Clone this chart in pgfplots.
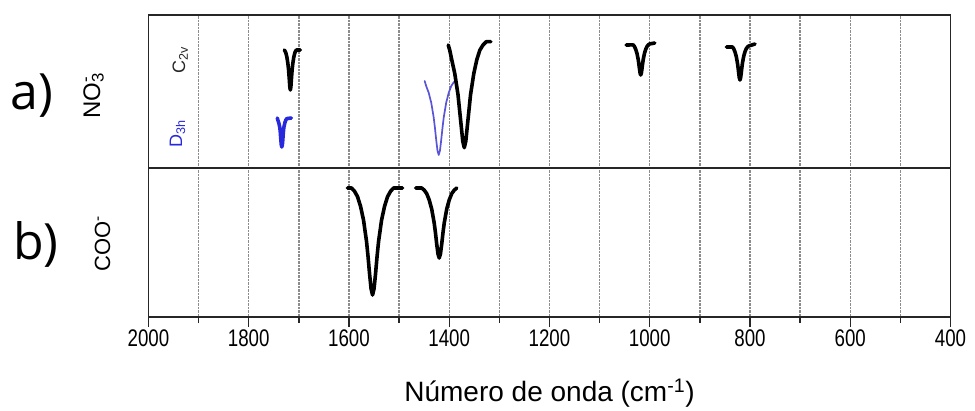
\documentclass[border=0pt]{standalone}
\usepackage{fontspec}
\setmainfont{Liberation Sans}
\newfontfamily\tickfont[FakeStretch=0.78]{Liberation Sans}
\newfontfamily\labfont{Open Sans}
\usepackage{pgfplots}
\pgfplotsset{compat=1.18}
\definecolor{dblue}{RGB}{40,40,220}
\definecolor{lblue}{RGB}{90,85,215}
\definecolor{gridgray}{RGB}{140,140,140}

\pgfplotsset{
  peak/.style={line width=3.6pt, line join=round, line cap=round, black, no marks},
  toppanel/.style={y filter/.code={\pgfmathparse{\pgfmathresult+149}}},
}

\begin{document}
\begin{tikzpicture}
\path[use as bounding box] (0pt,0pt) rectangle (975pt,410pt);

\begin{axis}[at={(148.5pt,93pt)}, anchor=south west,
  scale only axis, width=802pt, height=302pt,
  xmin=400, xmax=2000, x dir=reverse,
  ymin=0, ymax=302,
  axis line style={line width=1.6pt, black!85},
  every tick/.style={black!85, line width=1.3pt},
  /pgf/number format/assume math mode=true,
  /pgf/number format/1000 sep={},
  clip=false,
  xtick={400,600,...,2000}, minor xtick={500,700,...,1900},
  xmajorgrids, xminorgrids,
  every axis x grid/.style={densely dotted, gridgray, line width=1.3pt},
  xtick pos=left, tick align=outside,
  major tick length=10pt, minor tick length=6pt,
  xticklabel style={font=\tickfont\fontsize{24}{24}\selectfont, yshift=1pt},
  ytick={149}, ymajorgrids,
  every axis y grid/.style={solid, black!85, line width=1.6pt},
  ytick style={draw=none},
  yticklabel style={text opacity=0},
  extra y ticks={74.5,225.5}, extra y tick labels={},
  extra y tick style={grid=none, major tick length=4pt, tick align=inside, ytick pos=both},
]
% COO- panel
\addplot[peak] coordinates {
(1603,129)(1595,129)(1589,125.8)(1583,120.4)(1577,110.8)(1571,96.9)(1565,75.5)(1562,60.5)(1559,43.4)(1556,28.4)(1553,22)(1550,28.4)(1547,43.4)(1544,60.5)(1541,75.5)(1535,96.9)(1529,110.8)(1523,120.4)(1517,125.8)(1511,129)(1493,129)};
\addplot[peak] coordinates {
(1467,129)(1455,129)(1450,126.9)(1445,123.4)(1440,117.1)(1435,108)(1430,94)(1427.5,84.2)(1425,73)(1422.5,63.2)(1420,59)(1417.5,63.2)(1415,73)(1412.5,84.2)(1410,94)(1405,108)(1400,117.1)(1395,123.4)(1390,126.9)(1385,129)};
% NO3- panel: D3h small
\addplot[peak, dblue, toppanel] coordinates {
(1743,50)(1742,48)(1740,45.1)(1738,40.4)(1737,35.5)(1736,28.3)(1735,23)(1734,21)(1733,23)(1732,28.3)(1731,35.5)(1730,40.4)(1728,45.1)(1726,48)(1724,49.4)(1715,50)};
% D3h large
\addplot[peak, lblue, line width=1.7pt, toppanel] coordinates {
(1449,87)(1446,82)(1441,75.25)(1436,65.5)(1431,50.5)(1428.5,40)(1426,28)(1423.5,17.5)(1421,13)(1418.5,17.5)(1416,28)(1413.5,40)(1411,50.5)(1406,65.5)(1401,75.25)(1396,82)(1391,85.75)(1386,88)};
% C2v peaks
\addplot[peak, toppanel] coordinates {
(1729,118)(1728,117.2)(1726,115.2)(1724,111.2)(1722,104.8)(1720.5,98)(1719,88)(1718,80.8)(1717,78)(1716,80.8)(1715,88)(1713.5,98)(1712,104.8)(1710,111.2)(1708,115.2)(1706,117.2)(1705,118)(1697,118)};
\addplot[peak, toppanel] coordinates {
(1402,123)(1399,117.8)(1395,108.3)(1389,94.5)(1382.5,73.3)(1379.5,58.5)(1376,41.5)(1373,26.7)(1370,20.3)(1367,26.7)(1364,41.5)(1360.5,58.5)(1357.5,73.3)(1351,94.5)(1345,108.3)(1339,117.8)(1332.5,123.1)(1326,126.3)(1317,126.3)};
\addplot[peak, toppanel] coordinates {
(1047,123)(1033,123.1)(1030.5,121.5)(1028,118.7)(1025.5,114.7)(1023,108.5)(1021.75,104.2)(1020.5,99.2)(1019.25,94.9)(1018,93)(1016.75,94.9)(1015.5,99.2)(1014.25,104.2)(1013,108.5)(1010.5,114.7)(1008,118.7)(1005.5,121.5)(1003,123.1)(1000.5,124)(990,125)};
\addplot[peak, toppanel] coordinates {
(847,121)(835,121)(832.5,119.3)(830,116.2)(827.5,111.8)(825,105)(823.75,100.2)(822.5,94.8)(821.25,90)(820,88)(818.75,90)(817.5,94.8)(816.25,100.2)(815,105)(812.5,111.8)(810,116.2)(807.5,119.3)(805,121)(802.5,122)(790,124)};
\end{axis}

% panel labels
\node[anchor=base west, inner sep=0pt, font=\labfont\fontsize{50}{50}\selectfont] at (10pt,300pt) {a)};
\node[anchor=base west, inner sep=0pt, font=\labfont\fontsize{50}{50}\selectfont] at (13pt,150pt) {b)};
\node[rotate=90, anchor=base, inner sep=0pt, font=\fontsize{24}{24}\selectfont] at (100pt,314pt) {NO\rlap{\textsuperscript{-}}\textsubscript{3}};
\node[rotate=90, anchor=base, inner sep=0pt, font=\fontsize{22}{22}\selectfont] at (110pt,166pt) {COO\textsuperscript{-}};
\node[rotate=90, anchor=base, inner sep=0pt, text=black!85, font=\fontsize{18}{18}\selectfont] at (185pt,350pt) {C\textsubscript{2v}};
\node[rotate=90, anchor=base, inner sep=0pt, text=dblue, font=\fontsize{18}{18}\selectfont] at (182pt,276pt) {D\textsubscript{3h}};
% x label
\node[anchor=center, inner sep=0pt, font=\fontsize{28}{28}\selectfont] at (549.5pt,17pt) {Número de onda (cm\textsuperscript{-1})};
\end{tikzpicture}
\end{document}
